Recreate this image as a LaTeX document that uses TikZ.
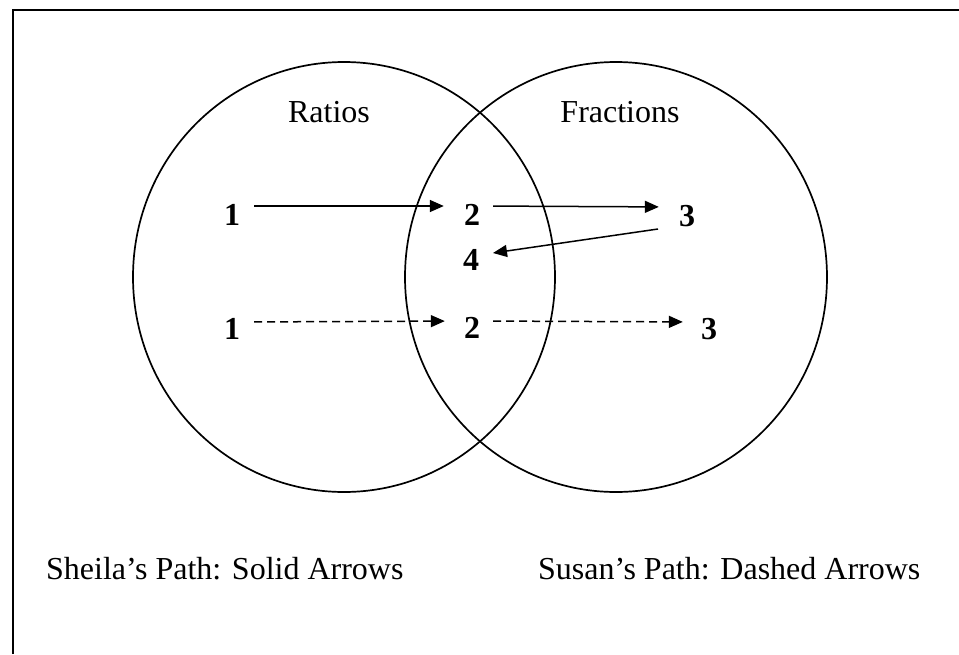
\documentclass[tikz,border=0pt]{standalone}
\usepackage{fontspec}
\setmainfont{Liberation Serif}
\usetikzlibrary{arrows.meta}
\tikzset{
  circ/.style={line width=1.7pt},
  lbl/.style={font=\fontsize{32}{38}\selectfont, inner sep=0pt},
  num/.style={font=\fontsize{32}{38}\selectfont\bfseries, inner sep=0pt},
  sarr/.style={line width=1.5pt, -{Triangle[length=14pt,width=12pt]}},
  darr/.style={sarr, dash pattern=on 8pt off 5pt},
}
\begin{document}
\begin{tikzpicture}[x=1pt,y=-1pt]
\useasboundingbox (0,0) rectangle (959,654);
% frame
\draw[line width=2.5pt] (13,654) -- (13,10) -- (959,10);
% circles
\draw[circ] (344,277) ellipse [x radius=211, y radius=215];
\draw[circ] (616,277) ellipse [x radius=211, y radius=215];
% labels
\node[lbl, anchor=base] (ratios) at (329,122) {Ratios};
\node[lbl, anchor=base] (fractions) at (620,122) {Fractions};
% solid path
\node[num] (s1) at (232,215) {1};
\node[num] (s2) at (472,215) {2};
\node[num] (s3) at (687,216) {3};
\node[num] (s4) at (471,260) {4};
\draw[sarr, shorten <=14pt, shorten >=20pt] ([yshift=9pt]s1.east) -- ([yshift=9pt]s2.west);
\draw[sarr, shorten <=13pt, shorten >=20pt] ([yshift=9pt]s2.east) -- ([yshift=9pt]s3.west);
\draw[sarr] ([shift={(-29pt,-13pt)}]s3.center) -- ([shift={(22pt,7pt)}]s4.center);
% dashed path
\node[num] (d1) at (232,329) {1};
\node[num] (d2) at (472,328) {2};
\node[num] (d3) at (709,329) {3};
\draw[darr, shorten <=14pt, shorten >=19pt] ([yshift=7pt]d1.east) -- ([yshift=7pt]d2.west);
\draw[darr, shorten <=13pt, shorten >=18pt] ([yshift=7pt]d2.east) -- ([yshift=7pt]d3.west);
% legend
\node[lbl, anchor=base west] (sheila) at (46,579) {Sheila’s Path: Solid Arrows};
\node[lbl, anchor=base west] (susan) at (538,579) {Susan’s Path: Dashed Arrows};
\end{tikzpicture}
\end{document}
